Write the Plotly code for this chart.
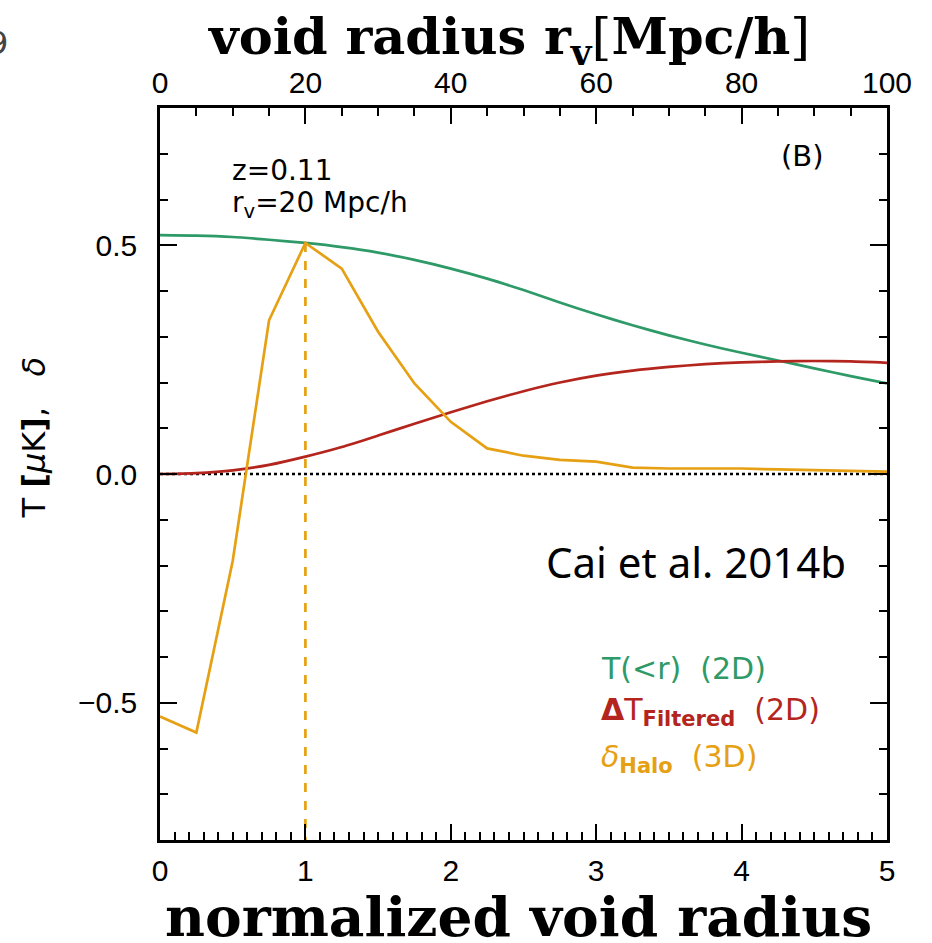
import plotly.graph_objects as go

# Radial profiles around voids, r in units of the void radius
r_norm = [0, 0.25, 0.5, 0.75, 1.0, 1.25, 1.5, 1.75, 2.0, 2.25, 2.5,
          2.75, 3.0, 3.25, 3.5, 3.75, 4.0, 4.25, 4.5, 4.75, 5.0]

# Cumulative temperature T(<r), 2D
t_cumulative = [0.522, 0.521, 0.518, 0.512, 0.505, 0.496, 0.484, 0.468, 0.449, 0.427,
                0.402, 0.375, 0.349, 0.325, 0.303, 0.283, 0.265, 0.248, 0.231, 0.214, 0.198]

# Filtered temperature profile dT, 2D
dt_filtered = [0.0, 0.002, 0.008, 0.020, 0.038, 0.059, 0.084, 0.110, 0.135, 0.159,
               0.181, 0.200, 0.215, 0.226, 0.234, 0.240, 0.244, 0.246, 0.247, 0.246, 0.243]

# Halo density contrast, 3D
delta_halo = [-0.530, -0.565, -0.190, 0.336, 0.505, 0.449, 0.311, 0.198, 0.114, 0.056,
              0.040, 0.031, 0.027, 0.014, 0.012, 0.012, 0.012, 0.010, 0.008, 0.007, 0.005]

void_radius_mpc = 20      # r_v in Mpc/h
redshift = "0.11"
top_range_mpc = [0, 100]

GREEN = "#2e9a68"
RED = "#b3251d"
ORANGE = "#e6a013"
IDL_FONT = "DejaVu Sans"
TICK_FONT = "Liberation Sans"
SERIF = "DejaVu Serif"

fig = go.Figure()

# zero reference line
fig.add_trace(go.Scatter(x=[r_norm[0], r_norm[-1]], y=[0, 0], mode="lines",
                         line=dict(color="black", width=2.5, dash="dot"),
                         showlegend=False, hoverinfo="skip"))

fig.add_trace(go.Scatter(x=r_norm, y=t_cumulative, mode="lines",
                         line=dict(color=GREEN, width=2.7, shape="spline", smoothing=0.6),
                         showlegend=False))
fig.add_trace(go.Scatter(x=r_norm, y=dt_filtered, mode="lines",
                         line=dict(color=RED, width=2.7, shape="spline", smoothing=0.6),
                         showlegend=False))
fig.add_trace(go.Scatter(x=r_norm, y=delta_halo, mode="lines",
                         line=dict(color=ORANGE, width=2.7), showlegend=False))

# dashed marker at the void radius, drawn on the Mpc/h axis
peak = max(delta_halo)
fig.add_trace(go.Scatter(x=[void_radius_mpc, void_radius_mpc], y=[peak, -0.8],
                         xaxis="x2", mode="lines",
                         line=dict(color=ORANGE, width=2.7, dash="dash"),
                         showlegend=False, hoverinfo="skip"))

tick_font = dict(family=TICK_FONT, size=30, color="black")
minor_common = dict(ticks="inside", ticklen=8, tickwidth=2, tickcolor="black",
                    showgrid=False)

fig.update_layout(
    width=932, height=943,
    margin=dict(l=160, r=45, t=108, b=103),
    paper_bgcolor="white", plot_bgcolor="white",
    showlegend=False,
    xaxis=dict(range=[0, 5], dtick=1, tick0=0, ticks="inside", ticklen=16,
               tickwidth=2, tickcolor="black", showline=True, linecolor="black",
               linewidth=2.5, mirror=False, showgrid=False, zeroline=False,
               tickfont=tick_font, ticklabelstandoff=2,
               minor=dict(dtick=0.1, **minor_common)),
    xaxis2=dict(range=top_range_mpc, dtick=20, tick0=0, overlaying="x", side="top",
                ticks="inside", ticklen=16, tickwidth=2, tickcolor="black",
                showline=True, linecolor="black", linewidth=2.5,
                showgrid=False, zeroline=False, tickfont=tick_font,
                ticklabelstandoff=0,
                minor=dict(dtick=5, **minor_common)),
    yaxis=dict(range=[-0.8, 0.8], dtick=0.5, tick0=0, tickformat=".1f",
               ticks="inside", ticklen=17, tickwidth=2, tickcolor="black",
               showline=True, linecolor="black", linewidth=2.5, mirror="ticks",
               showgrid=False, zeroline=False, tickfont=tick_font,
               ticklabelstandoff=14,
               minor=dict(dtick=0.1, **minor_common)),
)

PLOT_W, PLOT_H = 727.0, 732.8
ann = []


def note(text, x, y, size, color="black", family=IDL_FONT, xanchor="left",
         yanchor="middle", angle=0):
    ann.append(dict(text=text, x=x, y=y, xref="paper", yref="paper",
                    xanchor=xanchor, yanchor=yanchor, showarrow=False,
                    textangle=angle, font=dict(family=family, size=size, color=color)))


# axis titles
note("<b>void radius r<sub>v</sub></b>[<b>Mpc/h</b>]", 0.48, 1.0937, 51,
     family=SERIF, xanchor="center")
note("<b>normalized void radius</b>", 0.493, -0.104, 55,
     family=SERIF, xanchor="center")
note("T <b>[</b><i>μ</i>K<b>]</b>,&nbsp;&nbsp;&nbsp;<i>δ</i>", -126 / PLOT_W, 0.55, 32,
     xanchor="center", angle=-90)

# panel annotations
note("z=" + redshift, 70 / PLOT_W, 0.914, 28)
note("r<sub>v</sub>=%d Mpc/h" % void_radius_mpc, 70 / PLOT_W, 0.868, 28)
note("(B)", 0.852, 0.935, 29)
note("Cai et al. 2014b", 0.528, 0.381, 42, family="Noto Sans")

# curve key
note("T(<r)  (2D)", 0.604, 0.234, 30, color=GREEN)
note("<b>Δ</b>T<sub><b>Filtered</b></sub>  (2D)", 0.604, 0.175, 30, color=RED)
note("<i>δ</i><sub><b>Halo</b></sub>  (3D)", 0.604, 0.112, 30, color=ORANGE)

# clipped glyph at the page edge
note("9", -150 / PLOT_W, 1.0 + 65 / PLOT_H, 32, color="#444444", xanchor="right")

fig.update_layout(annotations=ann)
fig.write_html("out.html")
